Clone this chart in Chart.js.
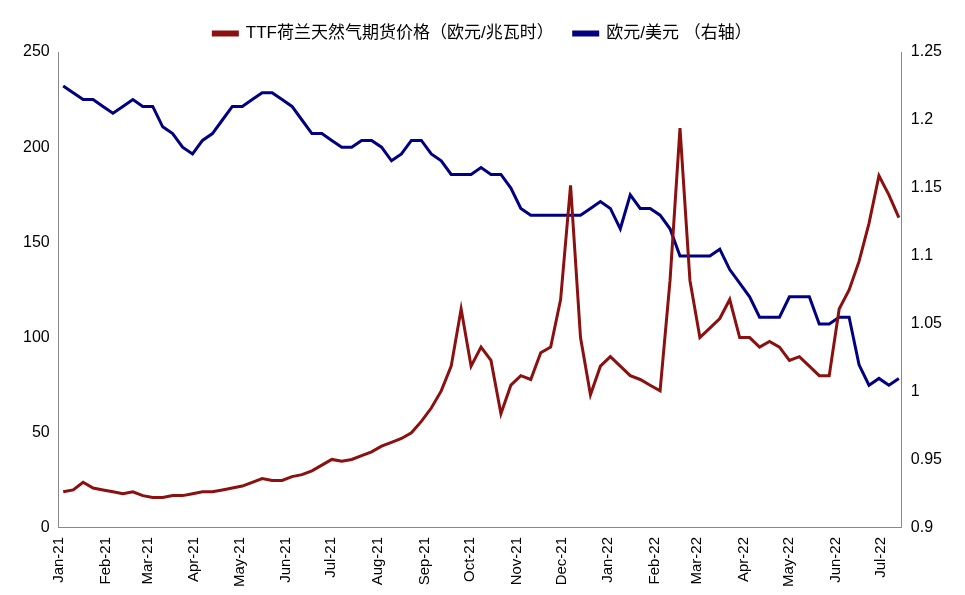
<!DOCTYPE html>
<html>
<head>
<meta charset="utf-8">
<script src="https://cdn.jsdelivr.net/npm/chart.js@4"></script>
<style>
  body { margin: 0; background: #fff; }
</style>
</head>
<body>
<canvas id="c" width="965" height="595"></canvas>
<script>
// month starts, days since 2021-01-01
const monthDays = [0, 31, 59, 90, 120, 151, 181, 212, 243, 273, 304, 334, 365, 396, 424, 455, 485, 516, 546];
const monthLabels = ['Jan-21', 'Feb-21', 'Mar-21', 'Apr-21', 'May-21', 'Jun-21', 'Jul-21', 'Aug-21', 'Sep-21', 'Oct-21', 'Nov-21', 'Dec-21',
  'Jan-22', 'Feb-22', 'Mar-22', 'Apr-22', 'May-22', 'Jun-22', 'Jul-22'];

// TTF (EUR/MWh), roughly weekly
const ttf = [
  19, 20, 24, 21, 20,
  19, 18, 19, 17,
  16, 16, 17, 17,
  18, 19, 19, 20, 21,
  22, 24, 26, 25,
  25, 27, 28, 30,
  33, 36, 35, 36, 38,
  40, 43, 45, 47,
  50, 56, 63, 72,
  85, 115, 85, 95, 88,
  60, 75, 80, 78,
  92, 95, 120, 180, 100,
  70, 85, 90, 85,
  80, 78, 75, 72, 130,
  210, 130, 100, 105,
  110, 120, 100, 100,
  95, 98, 95, 88, 90,
  85, 80, 80, 115, 125,
  140, 160, 185, 175, 163
];

// EUR/USD, roughly weekly
const eurusd = [
  1.225, 1.22, 1.215, 1.215, 1.21,
  1.205, 1.21, 1.215, 1.21,
  1.21, 1.195, 1.19, 1.18,
  1.175, 1.185, 1.19, 1.2, 1.21,
  1.21, 1.215, 1.22, 1.22,
  1.215, 1.21, 1.2, 1.19,
  1.19, 1.185, 1.18, 1.18, 1.185,
  1.185, 1.18, 1.17, 1.175,
  1.185, 1.185, 1.175, 1.17,
  1.16, 1.16, 1.16, 1.165, 1.16,
  1.16, 1.15, 1.135, 1.13,
  1.13, 1.13, 1.13, 1.13, 1.13,
  1.135, 1.14, 1.135, 1.12,
  1.145, 1.135, 1.135, 1.13, 1.12,
  1.1, 1.1, 1.1, 1.1,
  1.105, 1.09, 1.08, 1.07,
  1.055, 1.055, 1.055, 1.07, 1.07,
  1.07, 1.05, 1.05, 1.055, 1.055,
  1.02, 1.005, 1.01, 1.005, 1.01
];

const startDay = 3, endDay = 558;
const toPoints = arr => arr.map((v, i) => ({ x: startDay + i * (endDay - startDay) / (arr.length - 1), y: v }));

const font = { family: 'Liberation Sans, Arial, sans-serif', size: 16 };

new Chart(document.getElementById('c'), {
  type: 'line',
  data: {
    datasets: [
      { label: 'TTF荷兰天然气期货价格（欧元/兆瓦时）', data: toPoints(ttf), borderColor: '#8b1010', backgroundColor: '#8b1010',
        borderWidth: 3, pointRadius: 0, tension: 0, yAxisID: 'y' },
      { label: '欧元/美元 （右轴）', data: toPoints(eurusd), borderColor: '#000080', backgroundColor: '#000080',
        borderWidth: 3, pointRadius: 0, tension: 0, yAxisID: 'y1' }
    ]
  },
  options: {
    responsive: false,
    animation: false,
    layout: { padding: { left: 20, right: 20, top: 5, bottom: 5 } },
    plugins: {
      legend: {
        labels: { font: { family: 'Liberation Sans, Noto Sans CJK SC', size: 17 }, color: '#000', boxWidth: 24, boxHeight: 3, padding: 20 }
      },
      tooltip: { enabled: false }
    },
    scales: {
      x: {
        type: 'linear', min: 0, max: 560,
        grid: { display: false, tickLength: 6 },
        border: { color: '#888' },
        afterBuildTicks: axis => { axis.ticks = monthDays.map(v => ({ value: v })); },
        ticks: {
          autoSkip: false, maxRotation: 90, minRotation: 90, color: '#000', font: { family: font.family, size: 15 },
          callback: v => monthLabels[monthDays.indexOf(v)]
        }
      },
      y: {
        position: 'left', min: 0, max: 250,
        grid: { display: false, tickLength: 6 },
        border: { color: '#888' },
        ticks: { stepSize: 50, color: '#000', font }
      },
      y1: {
        position: 'right', min: 0.9, max: 1.25,
        grid: { display: false, tickLength: 6 },
        border: { color: '#888' },
        ticks: { stepSize: 0.05, color: '#000', font, callback: v => +v.toFixed(2) }
      }
    }
  }
});
</script>
</body>
</html>
